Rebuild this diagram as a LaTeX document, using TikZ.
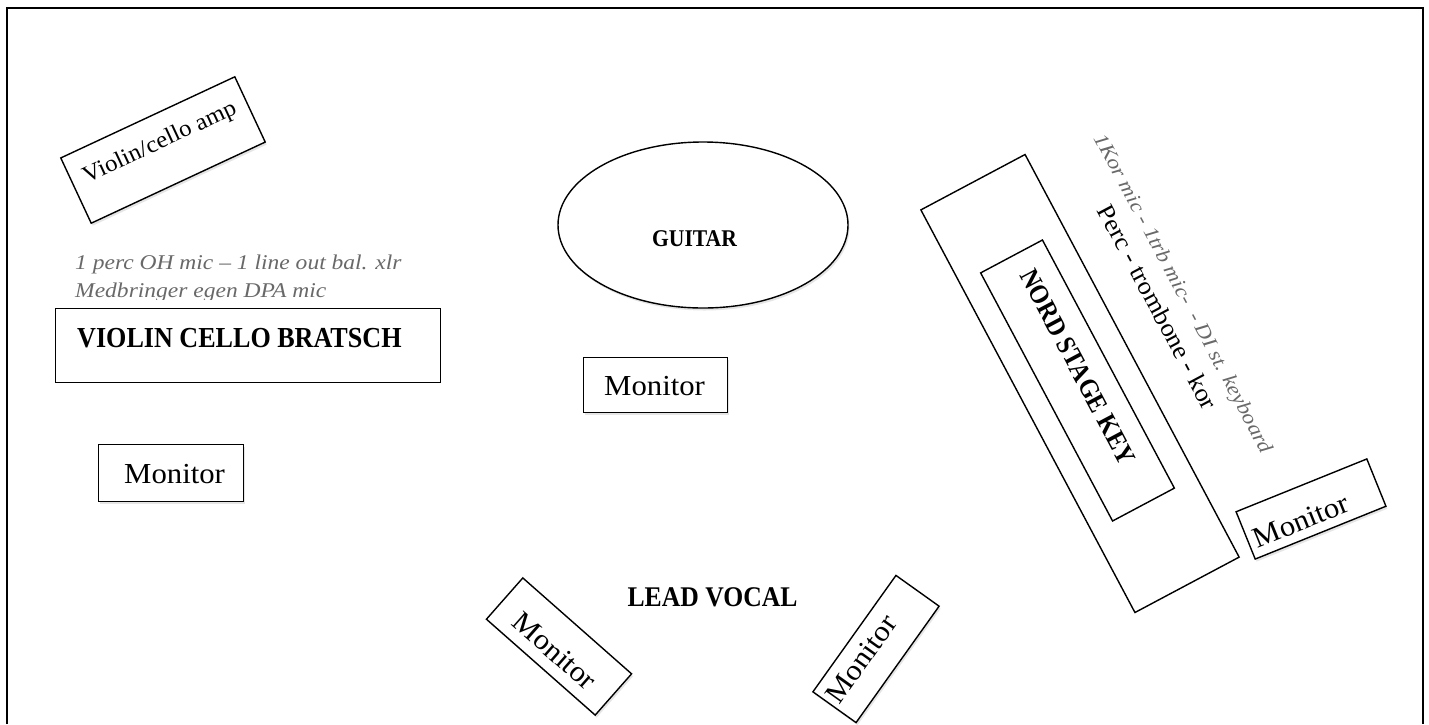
\documentclass[tikz,border=0pt]{standalone}
\usepackage{fontspec}
\setmainfont{Liberation Serif}
\newfontfamily\capsfont[FakeStretch=0.9]{Liberation Serif}
\newfontfamily\regfont[FakeStretch=1.06]{Liberation Serif}
\newfontfamily\itfont[FakeStretch=1.12]{Liberation Serif}
\usetikzlibrary{shapes.geometric,shadows}
\definecolor{notegray}{RGB}{105,105,105}
\tikzset{
  box/.style={draw=black, line width=1.4pt, fill=white, inner sep=0pt,
    drop shadow={shadow xshift=1.5pt, shadow yshift=-2.5pt, opacity=0.2}},
  plainbox/.style={draw=black, line width=1.4pt, fill=white, inner sep=0pt},
  montext/.style={inner sep=0pt, font=\regfont\fontsize{29}{34}\selectfont},
  bigtext/.style={inner sep=0pt, font=\capsfont\bfseries\fontsize{28.5}{34}\selectfont},
  note/.style={inner sep=0pt, text=notegray, font=\itfont\itshape\fontsize{21}{26}\selectfont},
}
\begin{document}
\begin{tikzpicture}[x=1pt,y=-1pt]
\useasboundingbox (0,0) rectangle (1429,724);
\fill[white] (0,0) rectangle (1429,724);
% stage frame
\draw[line width=2pt] (7,724) -- (7,8) -- (1423,8) -- (1423,724);

% violin/cello amp
\node[box, minimum width=192pt, minimum height=72pt, rotate=25] (amp) at (163,150) {};
\node[inner sep=0pt, rotate=25, font=\regfont\fontsize{23.5}{28}\selectfont] (amptext) at (160,143) {Violin/cello amp};

% notes
\begin{scope}
\clip (40,240) rectangle (480,299);
\node[note, anchor=base west] (note1) at (75,269) {1 perc OH mic – 1 line out bal. xlr};
\node[note, anchor=base west] (note2) at (75,297) {Medbringer egen DPA mic};
\end{scope}

% strings
\node[plainbox, minimum width=385pt, minimum height=74pt, anchor=north west] (strings) at (55,308) {};
\node[bigtext, anchor=base west, font=\capsfont\bfseries\fontsize{29}{34}\selectfont] (stringstext) at (77,347) {VIOLIN CELLO BRATSCH};

% left monitor
\node[box, minimum width=145pt, minimum height=57pt, anchor=north west] (monL) at (98,444) {};
\node[montext, anchor=base west] (monLtext) at (124,483) {Monitor};

% guitar
\node[box, ellipse, minimum width=290pt, minimum height=166pt] (guitar) at (703,225) {};
\node[inner sep=0pt, anchor=base, font=\capsfont\bfseries\fontsize{24}{28}\selectfont] (guitartext) at (694.5,246) {GUITAR};

% centre monitor
\node[box, minimum width=144pt, minimum height=55pt, anchor=north west] (monC) at (583,357) {};
\node[montext, anchor=base west] (monCtext) at (604,395) {Monitor};

% lead vocal
\node[bigtext, anchor=base] (lead) at (712.5,606) {LEAD VOCAL};

% bottom monitors
\node[box, minimum width=145pt, minimum height=55pt, rotate=-41.4] (monBL) at (559,646.5) {};
\node[montext, rotate=-41.4] (monBLtext) at (555,651) {Monitor};
\node[box, minimum width=143pt, minimum height=53pt, rotate=54.5] (monBR) at (876,649) {};
\node[montext, rotate=54.5] (monBRtext) at (861,659) {Monitor};

% keyboard riser
\node[plainbox, minimum width=456pt, minimum height=118pt, rotate=-62] (riser) at (1080,383.5) {};
\node[plainbox, minimum width=281pt, minimum height=70pt, rotate=-62] (nord) at (1077.5,380.5) {};
\node[bigtext, rotate=-62, font=\capsfont\bfseries\fontsize{27}{32}\selectfont] (nordtext) at (1078,367) {NORD STAGE KEY};
\node[inner sep=0pt, rotate=-62, font=\regfont\fontsize{25}{30}\selectfont] (perc) at (1158,307) {Perc - trombone - kor};
\node[note, rotate=-62, font=\itfont\itshape\fontsize{20.5}{25}\selectfont] (kornote) at (1182,294) {1Kor mic - 1trb mic-\ \ - DI st. keyboard};

% right monitor
\node[box, minimum width=141pt, minimum height=51pt, rotate=22] (monR) at (1311,509) {};
\node[montext, rotate=22] (monRtext) at (1301,521) {Monitor};
\end{tikzpicture}
\end{document}
